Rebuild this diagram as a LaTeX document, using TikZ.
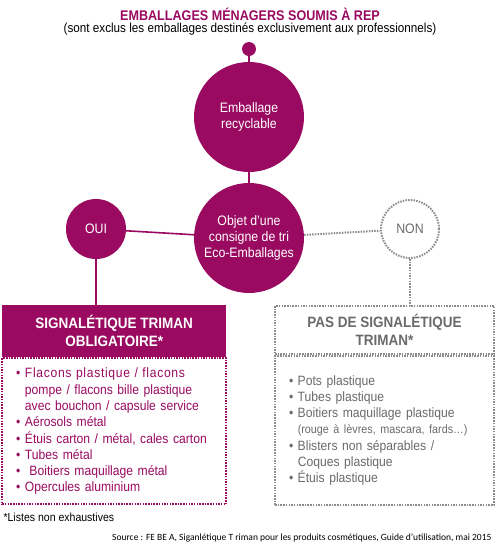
\documentclass[tikz,border=0pt]{standalone}
\usepackage{fontspec}
\setmainfont{Liberation Sans}[FakeStretch=0.9]
\newfontfamily\sourcefont{Carlito}
\usetikzlibrary{positioning}
\definecolor{prune}{HTML}{990A60}
\definecolor{gristrait}{HTML}{8C8C8C}
\definecolor{gristexte}{HTML}{6A6A6A}
\newcommand{\puce}{\textbullet\ }
\newcommand{\suite}{\hphantom{\textbullet\ }}

\begin{document}
\begin{tikzpicture}[x=1pt,y=-1pt,
  rond/.style={circle,fill=prune,text=white,align=center,inner sep=0pt,font=\fontsize{13.7}{16}\selectfont},
  vide/.style={circle,draw=gristrait,line width=2pt,dash pattern=on 1.5pt off 1.2pt,text=gristexte,inner sep=0pt,font=\fontsize{13.7}{16}\selectfont},
  lien/.style={draw=prune,line width=1.6pt},
  pointille/.style={draw=gristrait,line width=2pt,dash pattern=on 1.5pt off 1.2pt},
  entete/.style={fill=prune,text=white,align=center,font=\bfseries\fontsize{15}{18}\selectfont},
  corps/.style={align=left,inner xsep=14pt,font=\fontsize{13.5}{16.3}\selectfont}]
\useasboundingbox (0,0) rectangle (500,550);
% titre
\node[text=prune,font=\bfseries\fontsize{14}{16}\selectfont] (titre) at (250,14) {EMBALLAGES MÉNAGERS SOUMIS À REP};
\node[font=\fontsize{13}{14}\selectfont] (soustitre) at (250,29) {(sont exclus les emballages destinés exclusivement aux professionnels)};
% cercles
\node[rond,minimum size=14pt] (point) at (249,49) {};
\node[rond,minimum size=110pt] (emb) at (249,117) {Emballage\\recyclable};
\node[rond,minimum size=110pt] (objet) at (249,238) {Objet d’une\\consigne de tri\\Eco-Emballages};
\node[rond,minimum size=60pt] (oui) at (96,229) {OUI};
\node[vide,minimum size=58pt] (non) at (410,229) {NON};
% encadres
\node[entete,minimum width=224pt,minimum height=52pt,anchor=north west] (signal) at (2,305) {SIGNALÉTIQUE TRIMAN\\OBLIGATOIRE*};
\node[corps,text=prune,draw=prune,line width=2pt,dash pattern=on 1.5pt off 1.2pt,text width=196pt,minimum height=146pt,anchor=north] (oblig) at (signal.south) {\puce{\addfontfeature{LetterSpace=5}Flacons plastique / flacons}\\\suite pompe / flacons bille plastique\\\suite avec bouchon / capsule service\\\puce Aérosols métal\\\puce Étuis carton / métal, cales carton\\\puce Tubes métal\\\puce\ Boitiers maquillage métal\\\puce Opercules aluminium};
\node[entete,fill=none,text=gristexte,draw=gristrait,line width=2pt,dash pattern=on 1.5pt off 1.2pt,minimum width=219pt,minimum height=48pt,anchor=north west] (pas) at (274,305) {PAS DE SIGNALÉTIQUE\\TRIMAN*};
\node[corps,text=gristexte,draw=gristrait,line width=2pt,dash pattern=on 1.5pt off 1.2pt,text width=191pt,minimum height=149pt,anchor=north] (nonoblig) at (pas.south) {\puce Pots plastique\\\puce Tubes plastique\\\puce Boitiers maquillage plastique\\\suite{\fontsize{12}{16}\selectfont(rouge à lèvres, mascara, fards…)}\\\puce Blisters non séparables /\\\suite Coques plastique\\\puce Étuis plastique};
% liens
\draw[lien] (point) -- (emb);
\draw[lien] (emb) -- (objet);
\draw[lien] (oui) -- (objet);
\draw[lien] (oui) -- (oui |- signal.north);
\draw[pointille] (objet) -- (non);
\draw[pointille] (non) -- (non |- pas.north);
% notes
\node[anchor=west,font=\fontsize{11.7}{12}\selectfont] (note) at (0,517) {*Listes non exhaustives};
\node[anchor=east,font=\sourcefont\fontsize{9.5}{10}\selectfont] (source) at (495,538) {Source : FE BE A, Siganlétique T riman pour les produits cosmétiques, Guide d’utilisation, mai 2015};
\end{tikzpicture}
\end{document}
